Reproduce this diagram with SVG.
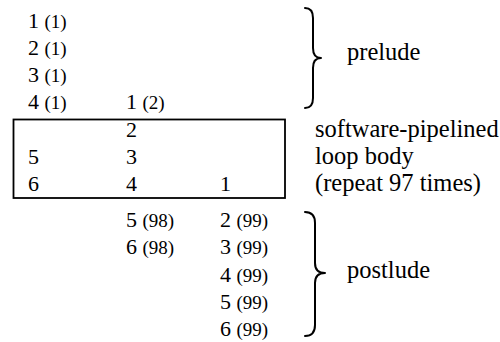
<svg xmlns="http://www.w3.org/2000/svg" width="500" height="342" viewBox="0 0 500 342">
<style>
text{font-family:'Liberation Serif','Times New Roman',Times,serif;fill:#000}
.n{font-size:22px}
.p{font-size:19px}
.l{font-size:24.5px}
.br{fill:none;stroke:#000;stroke-width:2;stroke-linecap:round;stroke-linejoin:round}
.box{fill:none;stroke:#000;stroke-width:1.8}
</style>
<rect width="500" height="342" fill="#fff"/>
<g id="prelude-rows">
<text class="n" x="28" y="28">1 <tspan class="p">(1)</tspan></text>
<text class="n" x="28" y="55">2 <tspan class="p">(1)</tspan></text>
<text class="n" x="28" y="82">3 <tspan class="p">(1)</tspan></text>
<text class="n" x="28" y="109">4 <tspan class="p">(1)</tspan></text>
<text class="n" x="126" y="109">1 <tspan class="p">(2)</tspan></text>
</g>
<g id="loop-body">
<rect class="box" x="13.5" y="119.5" width="271.5" height="78.5"/>
<text class="n" x="126" y="136.5">2</text>
<text class="n" x="28" y="164">5</text>
<text class="n" x="126" y="164">3</text>
<text class="n" x="28" y="191">6</text>
<text class="n" x="126" y="191">4</text>
<text class="n" x="220" y="191">1</text>
</g>
<g id="postlude-rows">
<text class="n" x="126" y="227">5 <tspan class="p">(98)</tspan></text>
<text class="n" x="126" y="254">6 <tspan class="p">(98)</tspan></text>
<text class="n" x="220" y="227">2 <tspan class="p">(99)</tspan></text>
<text class="n" x="220" y="254">3 <tspan class="p">(99)</tspan></text>
<text class="n" x="220" y="282">4 <tspan class="p">(99)</tspan></text>
<text class="n" x="220" y="309">5 <tspan class="p">(99)</tspan></text>
<text class="n" x="220" y="336">6 <tspan class="p">(99)</tspan></text>
</g>
<g id="connectors">
<path class="br" d="M305,8 Q313,8 313,18 L313,48 Q313,58 321,58 Q313,58 313,68 L313,98 Q313,108 305,108"/>
<path class="br" d="M305,212 Q315,212 315,223 L315,263 Q315,273 325,273 Q315,273 315,283 L315,325 Q315,336 305,336"/>
</g>
<g id="labels">
<text class="l" x="347" y="60">prelude</text>
<text class="l" x="315" y="137">software-pipelined</text>
<text class="l" x="315" y="164">loop body</text>
<text class="l" x="315" y="191">(repeat 97 times)</text>
<text class="l" x="347" y="278">postlude</text>
</g>
</svg>
